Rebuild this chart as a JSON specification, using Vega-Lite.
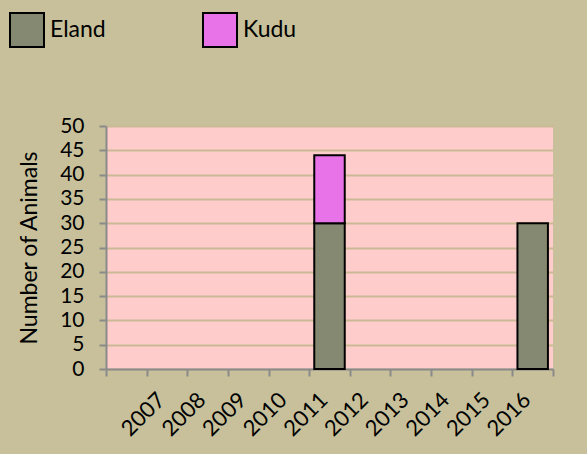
{
  "$schema": "https://vega.github.io/schema/vega-lite/v6.json",
  "autosize": "none",
  "width": 447,
  "height": 243,
  "padding": {"left": 106, "top": 126, "right": 34, "bottom": 85},
  "background": "#C7C09B",
  "config": {
    "font": "Lato",
    "view": {"fill": "#FFCCCC", "stroke": null}
  },
  "data": {
    "values": [
      {"year": "2011", "species": "Eland", "count": 30},
      {"year": "2011", "species": "Kudu", "count": 14},
      {"year": "2016", "species": "Eland", "count": 30}
    ]
  },
  "mark": {"type": "bar", "stroke": "black", "strokeWidth": 2, "width": {"band": 0.75}},
  "encoding": {
    "x": {
      "field": "year",
      "type": "nominal",
      "scale": {
        "domain": [" ", "2007", "2008", "2009", "2010", "2011", "2012", "2013", "2014", "2015", "2016"],
        "paddingInner": 0,
        "paddingOuter": 0
      },
      "axis": {
        "title": null,
        "tickBand": "extent",
        "labelAngle": -45,
        "labelAlign": "right",
        "labelBaseline": "middle",
        "labelFontSize": 22,
        "labelColor": "black",
        "labelPadding": 20,
        "labelOffset": -6,
        "domainColor": "#8A8A8A",
        "domainWidth": 2,
        "tickColor": "#8A8A8A",
        "tickWidth": 2,
        "tickSize": 7,
        "grid": false
      }
    },
    "y": {
      "field": "count",
      "type": "quantitative",
      "stack": "zero",
      "scale": {"domain": [0, 50]},
      "axis": {
        "title": "Number of Animals",
        "titleFontSize": 23,
        "titleFontWeight": "normal",
        "titleColor": "black",
        "titlePadding": 18,
        "values": [0, 5, 10, 15, 20, 25, 30, 35, 40, 45, 50],
        "labelFontSize": 21,
        "labelColor": "black",
        "labelPadding": 15,
        "domainColor": "#8A8A8A",
        "domainWidth": 2,
        "tickColor": "#8A8A8A",
        "tickWidth": 2,
        "tickSize": 7,
        "gridColor": "#CBB995",
        "gridWidth": 2
      }
    },
    "color": {
      "field": "species",
      "type": "nominal",
      "scale": {"domain": ["Eland", "Kudu"], "range": ["#868971", "#E872E8"]},
      "legend": {
        "title": null,
        "orient": "none",
        "legendX": -97,
        "legendY": -114,
        "direction": "horizontal",
        "symbolType": "square",
        "symbolSize": 1156,
        "symbolStrokeColor": "black",
        "symbolStrokeWidth": 2,
        "symbolOpacity": 1,
        "labelFontSize": 23,
        "labelColor": "black",
        "labelOffset": 5,
        "columnPadding": 93
      }
    },
    "order": {"field": "species", "sort": "ascending"}
  }
}
